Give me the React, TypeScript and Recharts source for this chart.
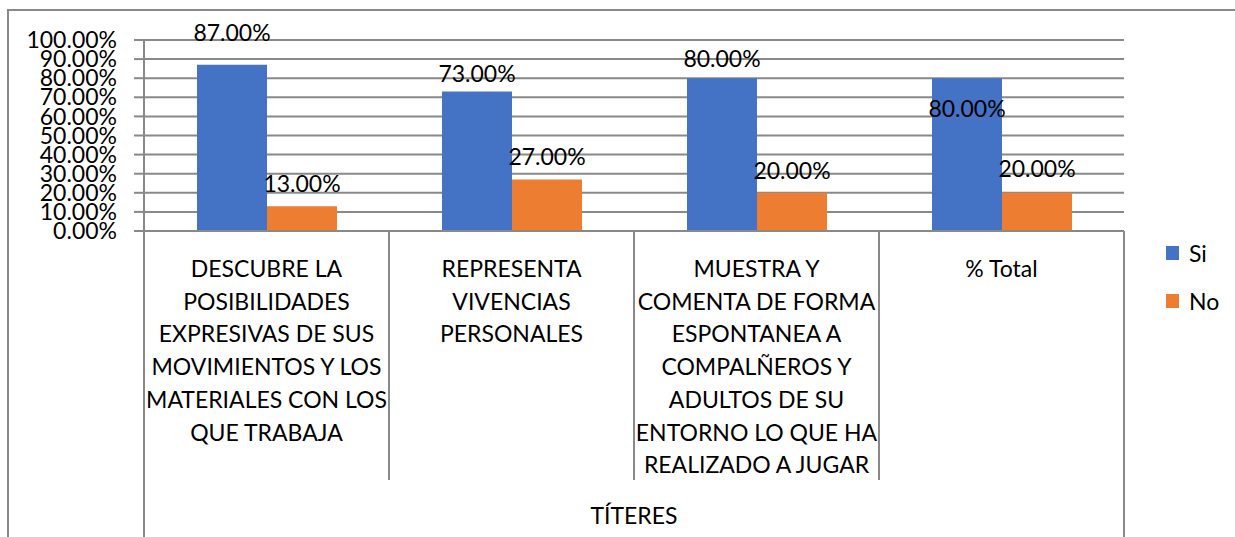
import React from 'react';
import { BarChart, Bar, XAxis, YAxis, CartesianGrid, LabelList } from 'recharts';

// category labels, broken into lines as in the original sheet
const categories = [
  'DESCUBRE LA\nPOSIBILIDADES\nEXPRESIVAS DE SUS\nMOVIMIENTOS Y LOS\nMATERIALES CON LOS\nQUE TRABAJA',
  'REPRESENTA\nVIVENCIAS\nPERSONALES',
  'MUESTRA Y\nCOMENTA DE FORMA\nESPONTANEA A\nCOMPALÑEROS Y\nADULTOS DE SU\nENTORNO LO QUE HA\nREALIZADO A JUGAR',
  '% Total',
];
const groupLabel = 'TÍTERES';
const siValues = [87, 73, 80, 80];
const noValues = [13, 27, 20, 20];
const seriesNames = ['Si', 'No'];
const yTicks = [0, 10, 20, 30, 40, 50, 60, 70, 80, 90, 100];

const COLORS = ['#4472c4', '#ed7d31'];
const GRID = '#898989';
const FONT = 'Lato, "Noto Sans", sans-serif';

const W = 1235;
const H = 537;
const PLOT_LEFT = 144;
const PLOT_RIGHT = 1124;
const PLOT_TOP = 40;
const PLOT_BOTTOM = 231;

const pct = (v: number) => `${v.toFixed(2)}%`;

const data = categories.map((c, i) => ({
  category: c,
  si: siValues[i],
  no: noValues[i],
}));

const CategoryTick = (props: any) => {
  const { x, payload, index } = props;
  const band = (PLOT_RIGHT - PLOT_LEFT) / categories.length;
  const lines = String(payload.value).split('\n');
  const last = index === categories.length - 1;
  return (
    <g>
      {index === 0 && (
        <line x1={x - band / 2} x2={x - band / 2} y1={PLOT_BOTTOM} y2={H} stroke={GRID} strokeWidth={2} />
      )}
      <line
        x1={x + band / 2}
        x2={x + band / 2}
        y1={PLOT_BOTTOM}
        y2={last ? H : 480}
        stroke={GRID}
        strokeWidth={2}
      />
      {lines.map((l, i) => (
        <text
          key={i}
          x={x}
          y={268 + i * 32.7}
          textAnchor="middle"
          dominantBaseline="central"
          fontFamily={FONT}
          fontSize={23}
          fill="#000"
        >
          {l}
        </text>
      ))}
      {index === 0 && (
        <text
          x={(PLOT_LEFT + PLOT_RIGHT) / 2}
          y={515}
          textAnchor="middle"
          dominantBaseline="central"
          fontFamily={FONT}
          fontSize={23}
          fill="#000"
        >
          {groupLabel}
        </text>
      )}
    </g>
  );
};

// how far above the bar top each value label sits
const siNudge = [33, 19, 20, -30];
const noNudge = [23, 23, 23, 25];

const makeLabel = (nudge: number[]) => (p: any) => {
  const { x, y, width, value, index } = p;
  return (
    <text
      x={x + width / 2}
      y={y - nudge[index]}
      textAnchor="middle"
      dominantBaseline="central"
      fontFamily={FONT}
      fontSize={23}
      fill="#000"
    >
      {pct(value)}
    </text>
  );
};

const App = () => {
  return (
    <div style={{ position: 'absolute', left: 0, top: 0, width: W, height: H, fontFamily: FONT, background: '#fff' }}>
      <div
        style={{
          position: 'absolute',
          left: 7,
          top: 9,
          width: W,
          height: H,
          borderLeft: `2px solid ${GRID}`,
          borderTop: `2px solid ${GRID}`,
        }}
      />
      <div style={{ position: 'absolute', left: 0, top: 0 }}>
        <BarChart
          width={W}
          height={H}
          data={data}
          margin={{ top: PLOT_TOP, right: W - PLOT_RIGHT, left: 0, bottom: 0 }}
          barGap={0}
        >
          <CartesianGrid vertical={false} stroke={GRID} strokeWidth={2} />
          <XAxis
            dataKey="category"
            height={H - PLOT_BOTTOM}
            interval={0}
            tickLine={false}
            axisLine={{ stroke: GRID, strokeWidth: 2 }}
            tick={<CategoryTick />}
          />
          <YAxis
            width={PLOT_LEFT}
            domain={[0, 100]}
            ticks={yTicks}
            interval={0}
            tickFormatter={pct}
            tickSize={10}
            tickMargin={17}
            axisLine={{ stroke: GRID, strokeWidth: 2 }}
            tickLine={{ stroke: GRID, strokeWidth: 2 }}
            tick={{ fontFamily: FONT, fontSize: 23, fill: '#000' }}
          />
          <Bar dataKey="si" name={seriesNames[0]} fill={COLORS[0]} barSize={70} isAnimationActive={false}>
            <LabelList dataKey="si" content={makeLabel(siNudge)} />
          </Bar>
          <Bar dataKey="no" name={seriesNames[1]} fill={COLORS[1]} barSize={70} isAnimationActive={false}>
            <LabelList dataKey="no" content={makeLabel(noNudge)} />
          </Bar>
        </BarChart>
      </div>
      {seriesNames.map((n, i) => (
        <div
          key={n}
          style={{
            position: 'absolute',
            left: 1166,
            top: 240 + i * 48,
            height: 26,
            display: 'flex',
            alignItems: 'center',
            fontSize: 23,
            color: '#000',
          }}
        >
          <span style={{ display: 'inline-block', width: 13, height: 14, background: COLORS[i], marginRight: 10 }} />
          {n}
        </div>
      ))}
    </div>
  );
};

export default App;
